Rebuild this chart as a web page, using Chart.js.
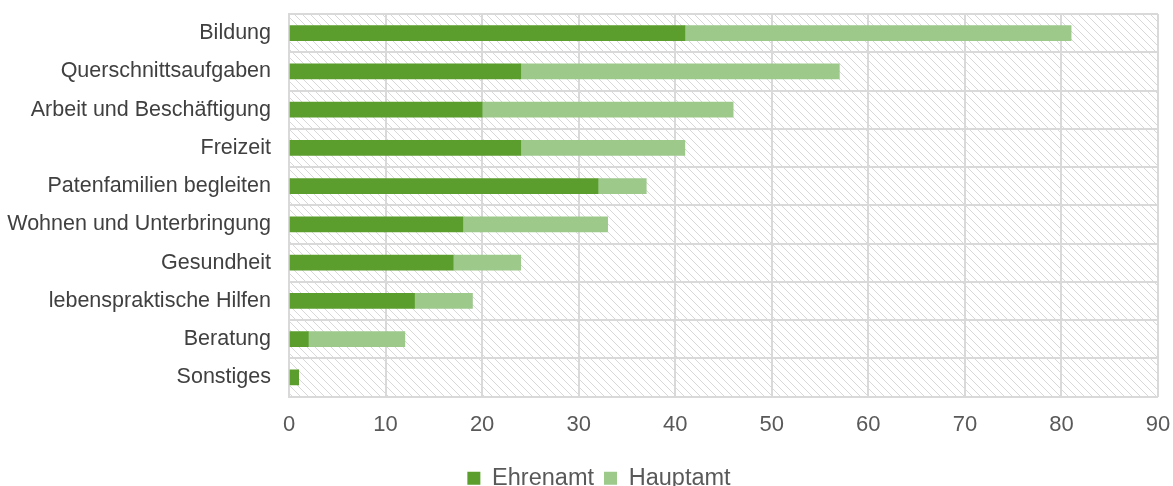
<!DOCTYPE html>
<html>
<head>
<meta charset="utf-8">
<script src="https://cdn.jsdelivr.net/npm/chart.js@4"></script>
<style>
  html, body { margin: 0; padding: 0; background: #ffffff; }
  #wrap { width: 1173px; height: 486px; }
</style>
</head>
<body>
<div id="wrap"><canvas id="chart" width="1173" height="486"></canvas></div>
<script>
// Kategorien und Werte
const categories = [
  'Bildung', 'Querschnittsaufgaben', 'Arbeit und Beschäftigung', 'Freizeit',
  'Patenfamilien begleiten', 'Wohnen und Unterbringung', 'Gesundheit',
  'lebenspraktische Hilfen', 'Beratung', 'Sonstiges'
];
const ehrenamt = [41, 24, 20, 24, 32, 18, 17, 13, 2, 1];
const hauptamt = [40, 33, 26, 17, 5, 15, 7, 6, 10, 0];
const xTicks = [0, 10, 20, 30, 40, 50, 60, 70, 80, 90];

// Schraffierter Hintergrund der Zeichenfläche
function makeHatch() {
  const size = 8;
  const c = document.createElement('canvas');
  c.width = size; c.height = size;
  const g = c.getContext('2d');
  g.fillStyle = '#ffffff';
  g.fillRect(0, 0, size, size);
  g.strokeStyle = '#d8d8d8';
  g.lineWidth = 1;
  g.beginPath();
  g.moveTo(0, 0); g.lineTo(size, size);
  g.moveTo(-size, 0); g.lineTo(size, 2 * size);
  g.moveTo(0, -size); g.lineTo(2 * size, size);
  g.stroke();
  return g.createPattern(c, 'repeat');
}

const hatchPlugin = {
  id: 'hatch',
  afterLayout(chart) {
    // Legende etwas nach rechts, wie im Original
    if (chart.legend) {
      chart.legend.left += 20;
      chart.legend.right += 20;
    }
  },
  beforeDraw(chart) {
    const a = chart.chartArea;
    const ctx = chart.ctx;
    ctx.save();
    ctx.fillStyle = makeHatch();
    ctx.fillRect(a.left, a.top, a.right - a.left, a.bottom - a.top);
    ctx.restore();
  }
};

new Chart(document.getElementById('chart'), {
  type: 'bar',
  data: {
    labels: categories,
    datasets: [
      { label: 'Ehrenamt', data: ehrenamt, backgroundColor: '#5b9e2d', barThickness: 15 },
      { label: 'Hauptamt', data: hauptamt, backgroundColor: '#9dc98b', barThickness: 15 }
    ]
  },
  options: {
    indexAxis: 'y',
    responsive: false,
    animation: false,
    layout: { padding: { top: 14, right: 15, left: 0, bottom: -14 } },
    plugins: {
      legend: {
        position: 'bottom',
        labels: {
          font: { family: 'Liberation Sans', size: 23.5 },
          color: '#595959',
          boxWidth: 13,
          boxHeight: 13,
          padding: 10
        }
      },
      tooltip: { enabled: false }
    },
    scales: {
      x: {
        stacked: true,
        min: 0,
        max: 90,
        afterBuildTicks(scale) { scale.ticks = xTicks.map(v => ({ value: v })); },
        afterFit(scale) {
          scale.height = 60;
          scale.paddingLeft = 0;
          scale.paddingRight = 0;
        },
        ticks: {
          font: { family: 'Liberation Sans', size: 22 },
          color: '#595959',
          padding: 15
        },
        grid: { color: '#d9d9d9', lineWidth: 2, drawTicks: false },
        border: { display: false }
      },
      y: {
        stacked: true,
        afterFit(scale) {
          scale.width = 289;
          scale.paddingTop = 0;
          scale.paddingBottom = 0;
        },
        ticks: {
          font: { family: 'Liberation Sans', size: 21.5 },
          color: '#404040',
          padding: 18
        },
        grid: { color: '#d9d9d9', lineWidth: 2, offset: true, drawTicks: false },
        border: { display: true, color: '#d9d9d9', width: 2 }
      }
    }
  },
  plugins: [hatchPlugin]
});
</script>
</body>
</html>
